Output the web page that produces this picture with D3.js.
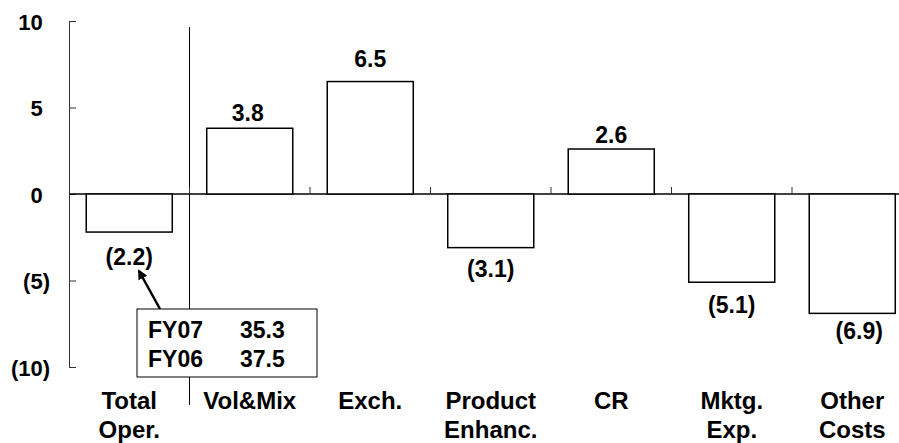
<!DOCTYPE html>
<html>
<head>
<meta charset="utf-8">
<script src="https://cdn.jsdelivr.net/npm/d3@7"></script>
<style>
  html, body { margin: 0; padding: 0; background: #fff; }
  svg { display: block; }
  text { font-family: "Liberation Sans", Arial, sans-serif; font-weight: bold; fill: #000; }
</style>
</head>
<body>
<svg id="chart" width="899" height="443"></svg>
<script>
// ---- data ----
const categories = [
  ["Total", "Oper."],
  ["Vol&Mix"],
  ["Exch."],
  ["Product", "Enhanc."],
  ["CR"],
  ["Mktg.", "Exp."],
  ["Other", "Costs"]
];
const values = [-2.2, 3.8, 6.5, -3.1, 2.6, -5.1, -6.9];
const yTicks = [10, 5, 0, -5, -10];
const boxLabels = ["FY07", "FY06"];
const boxValues = [35.3, 37.5];

// ---- layout ----
const W = 899, H = 443;
const svg = d3.select("#chart");
const tickFont = 22, valueFont = 23, catFont = 24, boxFont = 23;

const keys = categories.map(c => c.join(" "));
const y = d3.scaleLinear().domain([-10, 10]).range([367, 21]);
const x = d3.scaleBand().domain(keys).range([69, 912.5])
  .paddingInner(0.286).paddingOuter(0.143);
const step = x.step();
const x0 = 69;

const fmt = v => v < 0 ? "(" + d3.format(".1f")(-v) + ")" : d3.format(".1f")(v);
const fmtTick = v => v < 0 ? "(" + (-v) + ")" : String(v);

// vertical separator line (behind everything)
svg.append("line")
  .attr("x1", x0 + step).attr("x2", x0 + step)
  .attr("y1", 27).attr("y2", 405)
  .attr("stroke", "#000").attr("stroke-width", 1);

// y axis
const yAxis = d3.axisLeft(y).tickValues(yTicks)
  .tickSizeInner(-7).tickSizeOuter(0).tickPadding(19)
  .tickFormat(fmtTick);
const gy = svg.append("g").attr("transform", `translate(${x0},0)`).call(yAxis);
gy.select(".domain").attr("stroke", "#333").attr("stroke-width", 1);
gy.selectAll(".tick line").attr("stroke", "#333").attr("stroke-width", 1);
gy.selectAll(".tick text")
  .attr("font-size", tickFont)
  .attr("font-family", "Liberation Sans, Arial, sans-serif")
  .attr("font-weight", "bold")
  .attr("fill", "#000")
  .attr("dy", null)
  .attr("y", 8)
  .each(function(d) {
    if (d >= 0) {
      const t = d3.select(this);
      t.text(String(d));
      t.append("tspan").attr("fill-opacity", 0).text(")");
    }
  });

// zero line
svg.append("line")
  .attr("x1", x0).attr("x2", W)
  .attr("y1", y(0)).attr("y2", y(0))
  .attr("stroke", "#000").attr("stroke-width", 1.5);

// category boundary ticks on zero line
svg.append("g").selectAll("line")
  .data(d3.range(1, categories.length))
  .join("line")
  .attr("x1", i => x0 + i * step).attr("x2", i => x0 + i * step)
  .attr("y1", y(0) - 7).attr("y2", y(0))
  .attr("stroke", "#333").attr("stroke-width", 1);

// bars
svg.append("g").selectAll("rect")
  .data(values)
  .join("rect")
  .attr("x", (d, i) => x(keys[i]))
  .attr("width", x.bandwidth())
  .attr("y", d => y(Math.max(0, d)))
  .attr("height", d => Math.abs(y(d) - y(0)))
  .attr("fill", "#fff")
  .attr("stroke", "#000")
  .attr("stroke-width", 1.5);

// value labels (small manual nudges as in the original)
const nudgeX = [0, -2, 0, 0, 0, 0, 7];
const nudgeY = [3, 0, -8, -1, 1, 1, -4];
svg.append("g").selectAll("text")
  .data(values)
  .join("text")
  .attr("text-anchor", "middle")
  .attr("font-size", valueFont)
  .attr("x", (d, i) => x(keys[i]) + x.bandwidth() / 2 + nudgeX[i])
  .attr("y", (d, i) => (d >= 0 ? y(d) - 7 : y(d) + 30) + nudgeY[i])
  .text(fmt);

// category labels
const gc = svg.append("g");
categories.forEach((lines, i) => {
  const t = gc.append("text")
    .attr("text-anchor", "middle")
    .attr("font-size", catFont);
  lines.forEach((s, j) => {
    t.append("tspan")
      .attr("x", x(keys[i]) + x.bandwidth() / 2)
      .attr("y", 409 + j * 29)
      .text(s);
  });
});

// arrow
const defs = svg.append("defs");
defs.append("marker")
  .attr("id", "arrow")
  .attr("viewBox", "0 0 10 10")
  .attr("refX", 8).attr("refY", 5)
  .attr("markerWidth", 4).attr("markerHeight", 4)
  .attr("orient", "auto")
  .append("path")
  .attr("d", "M0,0 L10,5 L0,10 Z")
  .attr("fill", "#000");
svg.append("line")
  .attr("x1", 160).attr("y1", 309)
  .attr("x2", 139).attr("y2", 271)
  .attr("stroke", "#000").attr("stroke-width", 2.5)
  .attr("marker-end", "url(#arrow)");

// FY box
const box = svg.append("g");
box.append("rect")
  .attr("x", 137).attr("y", 309)
  .attr("width", 180).attr("height", 68)
  .attr("fill", "#fff").attr("stroke", "#000").attr("stroke-width", 1);
boxLabels.forEach((lab, i) => {
  box.append("text").attr("font-size", boxFont)
    .attr("x", 148).attr("y", 338 + i * 29).text(lab);
  box.append("text").attr("font-size", boxFont)
    .attr("x", 240).attr("y", 338 + i * 29).text(d3.format(".1f")(boxValues[i]));
});
</script>
</body>
</html>
